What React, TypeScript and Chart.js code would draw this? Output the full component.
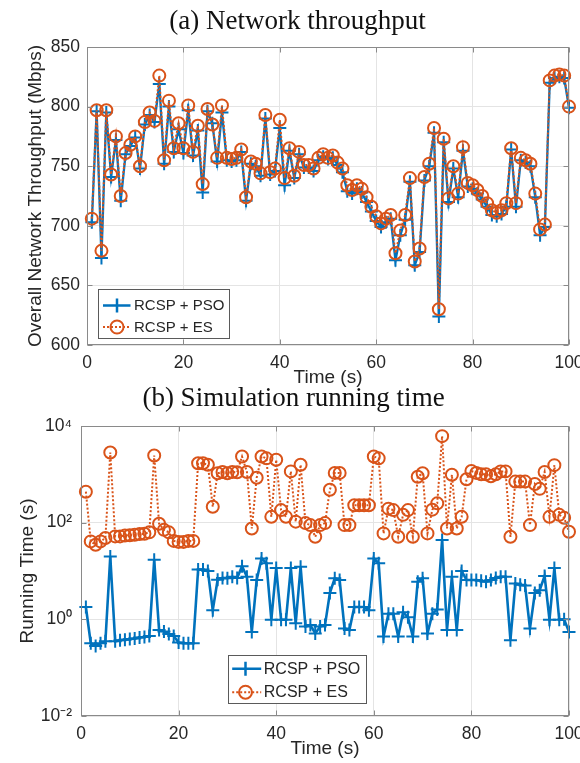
import React, { useEffect, useRef } from 'react';
import { Chart, registerables } from 'chart.js';

Chart.register(...registerables);

// ---------- data ----------
const timeSec = [
  1, 2, 3, 4, 5, 6, 7, 8, 9, 10,
  11, 12, 13, 14, 15, 16, 17, 18, 19, 20,
  21, 22, 23, 24, 25, 26, 27, 28, 29, 30,
  31, 32, 33, 34, 35, 36, 37, 38, 39, 40,
  41, 42, 43, 44, 45, 46, 47, 48, 49, 50,
  51, 52, 53, 54, 55, 56, 57, 58, 59, 60,
  61, 62, 63, 64, 65, 66, 67, 68, 69, 70,
  71, 72, 73, 74, 75, 76, 77, 78, 79, 80,
  81, 82, 83, 84, 85, 86, 87, 88, 89, 90,
  91, 92, 93, 94, 95, 96, 97, 98, 99, 100,
];

const throughputPSO = [
  703, 796, 673, 795, 741, 772, 721, 760, 767, 774,
  748, 785, 793, 787, 819, 752, 800, 762, 781, 761,
  797, 759, 780, 728, 796, 786, 754, 795, 755, 754,
  755, 762, 721, 752, 750, 742, 790, 743, 746, 782,
  734, 763, 740, 760, 749, 749, 746, 755, 758, 756,
  757, 751, 745, 729, 727, 731, 728, 720, 712, 704,
  699, 703, 706, 671, 692, 705, 737, 667, 678, 738,
  750, 778, 624, 770, 720, 748, 724, 763, 733, 731,
  727, 722, 716, 709, 708, 710, 716, 764, 716, 755,
  753, 750, 724, 692, 699, 820, 824, 825, 824, 799,
];

const throughputES = [
  706, 797, 679, 797, 743, 775, 725, 761, 768, 775,
  750, 787, 795, 788, 826, 755, 805, 765, 786, 765,
  801, 762, 784, 735, 798, 785, 757, 801, 757, 756,
  757, 764, 724, 754, 752, 744, 793, 745, 748, 789,
  740, 765, 742, 762, 751, 751, 748, 757, 760, 757,
  759, 753, 748, 734, 730, 734, 731, 724, 716, 708,
  702, 706, 709, 677, 696, 709, 740, 670, 681, 741,
  752, 782, 630, 773, 723, 750, 727, 766, 736, 734,
  730, 725, 719, 713, 711, 713, 719, 765, 719, 757,
  755, 752, 727, 697, 701, 822, 826, 827, 826, 800,
];

const runtimePSO = [
  1.8, 0.32, 0.28, 0.32, 0.35, 20, 0.35, 0.37, 0.38, 0.39,
  0.4, 0.42, 0.43, 0.45, 17, 0.6, 0.56, 0.5, 0.45, 0.33,
  0.32, 0.32, 0.32, 10.7, 10.7, 10, 1.55, 6.6, 7.2, 7.1,
  7.6, 7.2, 12.6, 7.6, 0.55, 6.5, 18.2, 14.5, 0.98, 11.5,
  0.98, 0.98, 11.5, 0.83, 12.3, 0.71, 0.76, 0.51, 0.71, 0.76,
  3.5, 7.1, 6.5, 0.65, 0.6, 1.8, 1.8, 1.8, 1.55, 18.2,
  14.5, 0.44, 1.3, 1.3, 0.44, 1.4, 1.1, 0.44, 6.0, 7.1,
  0.51, 1.3, 1.6, 44, 0.6, 7.6, 0.6, 10, 6.5, 6.5,
  6.5, 6.3, 6.0, 6.5, 7.2, 7.6, 7.6, 0.37, 5.5, 5.2,
  5.0, 0.65, 3.5, 4.0, 7.9, 0.98, 11.5, 0.98, 1.0, 0.55,
];

const runtimeES = [
  437, 41, 35, 41, 48, 2820, 52, 52, 54, 55,
  56, 58, 59, 63, 2450, 95, 71, 63, 42, 40,
  40, 42, 42, 1700, 1700, 1580, 214, 1050, 1120, 1050,
  1120, 1100, 2340, 1120, 76, 850, 2340, 2140, 132, 2000,
  182, 132, 1150, 105, 1580, 98, 89, 51, 89, 98,
  479, 1070, 1070, 89, 89, 229, 229, 229, 229, 2340,
  2140, 60, 195, 182, 51, 145, 182, 51, 890, 1050,
  60, 186, 251, 6170, 76, 977, 76, 132, 794, 1175,
  1070, 1000, 1000, 912, 1000, 1150, 1150, 51, 708, 708,
  708, 89, 631, 501, 1120, 132, 1550, 145, 126, 65,
];

const timeTicks = [0, 20, 40, 60, 80, 100];
const throughputTicks = [600, 650, 700, 750, 800, 850];
const runtimeTickExponents = [-2, 0, 2, 4];
const seriesLabels = ['RCSP + PSO', 'RCSP + ES'];

// ---------- style ----------
const BLUE = '#0072BD';
const ORANGE = '#D95319';
const TEXT = '#262626';
const FRAME = '#8a8a8a';
const GRID = '#e4e4e4';
const SANS = '"Liberation Sans", Arial, Helvetica, sans-serif';
const SERIF = '"Liberation Serif", "Times New Roman", Times, serif';

Chart.defaults.font.family = SANS;
Chart.defaults.color = TEXT;

const SUP: Record<string, string> = {
  '-': '\u207B', '0': '\u2070', '1': '\u00B9', '2': '\u00B2', '3': '\u00B3',
  '4': '\u2074', '5': '\u2075', '6': '\u2076', '7': '\u2077', '8': '\u2078', '9': '\u2079',
};
const powLabel = (v: number) => {
  const e = Math.round(Math.log10(v));
  return '10' + String(e).split('').map((c) => SUP[c] || c).join('');
};

const axesBoxPlugin = {
  id: 'axesBox',
  afterDraw(chart: any) {
    const { ctx, chartArea: a, scales } = chart;
    const L = Math.round(a.left) + 0.5;
    const R = Math.round(a.right) - 0.5;
    const T = Math.round(a.top) + 0.5;
    const B = Math.round(a.bottom) - 0.5;
    ctx.save();
    ctx.strokeStyle = FRAME;
    ctx.lineWidth = 1;
    ctx.setLineDash([]);
    ctx.strokeRect(L, T, R - L, B - T);
    const tl = 5;
    ctx.beginPath();
    scales.x.ticks.forEach((t: any) => {
      const px = Math.round(scales.x.getPixelForValue(t.value)) + 0.5;
      ctx.moveTo(px, B); ctx.lineTo(px, B - tl);
      ctx.moveTo(px, T); ctx.lineTo(px, T + tl);
    });
    scales.y.ticks.forEach((t: any) => {
      const py = Math.round(scales.y.getPixelForValue(t.value)) + 0.5;
      ctx.moveTo(L, py); ctx.lineTo(L + tl, py);
      ctx.moveTo(R, py); ctx.lineTo(R - tl, py);
    });
    ctx.stroke();
    ctx.restore();
  },
};

type LegendCfg = {
  dx: number; dy: number; w: number; h: number;
  row1: number; row2: number; lineStart: number; lineEnd: number;
  marker: number; textX: number; fontSize: number;
};

const makeLegendPlugin = (cfg: LegendCfg) => ({
  id: 'boxLegend',
  afterDraw(chart: any) {
    const { ctx, chartArea: a } = chart;
    const x0 = Math.round(a.left + cfg.dx) + 0.5;
    const y0 = Math.round(a.bottom - cfg.dy - cfg.h) + 0.5;
    ctx.save();
    ctx.fillStyle = '#ffffff';
    ctx.fillRect(x0, y0, cfg.w, cfg.h);
    ctx.strokeStyle = '#5a5a5a';
    ctx.lineWidth = 1;
    ctx.setLineDash([]);
    ctx.strokeRect(x0, y0, cfg.w, cfg.h);

    const y1 = y0 + cfg.row1;
    const y2 = y0 + cfg.row2;
    // PSO sample
    ctx.strokeStyle = BLUE;
    ctx.lineWidth = 2.5;
    ctx.beginPath();
    ctx.moveTo(x0 + cfg.lineStart, y1);
    ctx.lineTo(x0 + cfg.lineEnd, y1);
    ctx.moveTo(x0 + cfg.marker, y1 - 7);
    ctx.lineTo(x0 + cfg.marker, y1 + 7);
    ctx.stroke();
    // ES sample
    ctx.strokeStyle = ORANGE;
    ctx.lineWidth = 2;
    ctx.setLineDash([2, 2]);
    ctx.beginPath();
    ctx.moveTo(x0 + cfg.lineStart, y2);
    ctx.lineTo(x0 + cfg.lineEnd, y2);
    ctx.stroke();
    ctx.setLineDash([]);
    ctx.fillStyle = '#ffffff';
    ctx.beginPath();
    ctx.arc(x0 + cfg.marker, y2, 6.5, 0, Math.PI * 2);
    ctx.stroke();

    ctx.fillStyle = TEXT;
    ctx.font = `${cfg.fontSize}px ${SANS}`;
    ctx.textBaseline = 'middle';
    ctx.textAlign = 'left';
    ctx.fillText(seriesLabels[0], x0 + cfg.textX, y1 + 0.5);
    ctx.fillText(seriesLabels[1], x0 + cfg.textX, y2 + 0.5);
    ctx.restore();
  },
});

const psoStyle = {
  borderColor: BLUE,
  backgroundColor: BLUE,
  borderWidth: 2.3,
  pointStyle: 'cross' as const,
  pointRadius: 6.5,
  pointBorderWidth: 2,
  pointBorderColor: BLUE,
  tension: 0,
  clip: false as const,
  order: 2,
};

const esStyle = {
  borderColor: ORANGE,
  backgroundColor: 'rgba(0,0,0,0)',
  borderWidth: 2,
  borderDash: [2, 2],
  pointStyle: 'circle' as const,
  pointRadius: 6,
  pointBorderWidth: 2,
  pointBorderColor: ORANGE,
  pointBackgroundColor: 'rgba(0,0,0,0)',
  tension: 0,
  clip: false as const,
  order: 1,
};

const xScale = (height: number, titleBottom: number) => ({
  type: 'linear' as const,
  min: 0,
  max: 100,
  afterBuildTicks: (s: any) => { s.ticks = timeTicks.map((v) => ({ value: v })); },
  ticks: { padding: 9, font: { size: 17.5, lineHeight: 1 }, color: TEXT, maxRotation: 0, autoSkip: false },
  grid: { color: GRID, lineWidth: 1, drawTicks: false },
  border: { display: false },
  title: { display: true, text: 'Time (s)', font: { size: 19, lineHeight: 1 }, color: TEXT, padding: { top: 0, bottom: titleBottom } },
  afterFit: (s: any) => { s.height = height; s.paddingLeft = 0; s.paddingRight = 0; },
});

const topConfig = (): any => ({
  type: 'line',
  data: {
    labels: timeSec,
    datasets: [
      { label: seriesLabels[0], data: timeSec.map((t, i) => ({ x: t, y: throughputPSO[i] })), ...psoStyle },
      { label: seriesLabels[1], data: timeSec.map((t, i) => ({ x: t, y: throughputES[i] })), ...esStyle },
    ],
  },
  options: {
    responsive: false,
    animation: false,
    events: [],
    layout: { padding: { left: 26, right: 11, top: 0, bottom: 0 } },
    scales: {
      x: xScale(43, 0.5),
      y: {
        type: 'linear',
        min: 600,
        max: 850,
        afterBuildTicks: (s: any) => { s.ticks = throughputTicks.map((v) => ({ value: v })); },
        ticks: { padding: 7, font: { size: 17.5 }, color: TEXT },
        grid: { color: GRID, lineWidth: 1, drawTicks: false },
        border: { display: false },
        title: { display: true, text: 'Overall Network Throughput (Mbps)', font: { size: 19, lineHeight: 1 }, color: TEXT, padding: { top: 0.5, bottom: 0 } },
        afterFit: (s: any) => { s.width = 61; s.paddingTop = 0; s.paddingBottom = 0; },
      },
    },
    plugins: {
      legend: { display: false },
      tooltip: { enabled: false },
      title: {
        display: true,
        text: '(a) Network throughput',
        color: '#111111',
        font: { family: SERIF, size: 27, weight: 'normal', lineHeight: 1.2 },
        padding: { top: 6, bottom: 8.6 },
      },
    },
  },
  plugins: [
    axesBoxPlugin,
    makeLegendPlugin({ dx: 11, dy: 7, w: 131, h: 49, row1: 16, row2: 37.5, lineStart: 4.5, lineEnd: 32, marker: 18.5, textX: 35.5, fontSize: 15 }),
  ],
});

const bottomConfig = (): any => ({
  type: 'line',
  data: {
    labels: timeSec,
    datasets: [
      { label: seriesLabels[0], data: timeSec.map((t, i) => ({ x: t, y: runtimePSO[i] })), ...psoStyle, borderWidth: 2.6 },
      { label: seriesLabels[1], data: timeSec.map((t, i) => ({ x: t, y: runtimeES[i] })), ...esStyle },
    ],
  },
  options: {
    responsive: false,
    animation: false,
    events: [],
    layout: { padding: { left: 18, right: 11, top: 0, bottom: 0 } },
    scales: {
      x: xScale(47, 4.5),
      y: {
        type: 'logarithmic',
        min: Math.pow(10, runtimeTickExponents[0]),
        max: Math.pow(10, runtimeTickExponents[runtimeTickExponents.length - 1]),
        afterBuildTicks: (s: any) => { s.ticks = runtimeTickExponents.map((e) => ({ value: Math.pow(10, e) })); },
        ticks: { padding: 9, font: { size: 17.5 }, color: TEXT, callback: (v: any) => powLabel(Number(v)) },
        grid: { color: GRID, lineWidth: 1, drawTicks: false },
        border: { display: false },
        title: { display: true, text: 'Running Time (s)', font: { size: 19, lineHeight: 1 }, color: TEXT, padding: { top: 0.5, bottom: 0 } },
        afterFit: (s: any) => { s.width = 63; s.paddingTop = 0; s.paddingBottom = 0; },
      },
    },
    plugins: {
      legend: { display: false },
      tooltip: { enabled: false },
      title: {
        display: true,
        text: '(b) Simulation running time',
        color: '#111111',
        font: { family: SERIF, size: 27, weight: 'normal', lineHeight: 1.2 },
        padding: { top: 5, bottom: 10.6 },
      },
    },
  },
  plugins: [
    axesBoxPlugin,
    makeLegendPlugin({ dx: 147, dy: 13, w: 138, h: 48, row1: 13.3, row2: 36.7, lineStart: 3.7, lineEnd: 32.7, marker: 17, textX: 35.3, fontSize: 16 }),
  ],
});

export default function App() {
  const topRef = useRef<HTMLCanvasElement>(null);
  const botRef = useRef<HTMLCanvasElement>(null);

  useEffect(() => {
    const c1 = new Chart(topRef.current as HTMLCanvasElement, topConfig());
    const c2 = new Chart(botRef.current as HTMLCanvasElement, bottomConfig());
    return () => {
      c1.destroy();
      c2.destroy();
    };
  }, []);

  return (
    <div style={{ position: 'absolute', left: 0, top: 0, width: 580, height: 763, background: '#ffffff', overflow: 'hidden' }}>
      <canvas ref={topRef} width={580} height={388} style={{ position: 'absolute', left: 0, top: 0, width: 580, height: 388, display: 'block' }} />
      <canvas ref={botRef} width={580} height={385} style={{ position: 'absolute', left: 0, top: 378, width: 580, height: 385, display: 'block' }} />
    </div>
  );
}
